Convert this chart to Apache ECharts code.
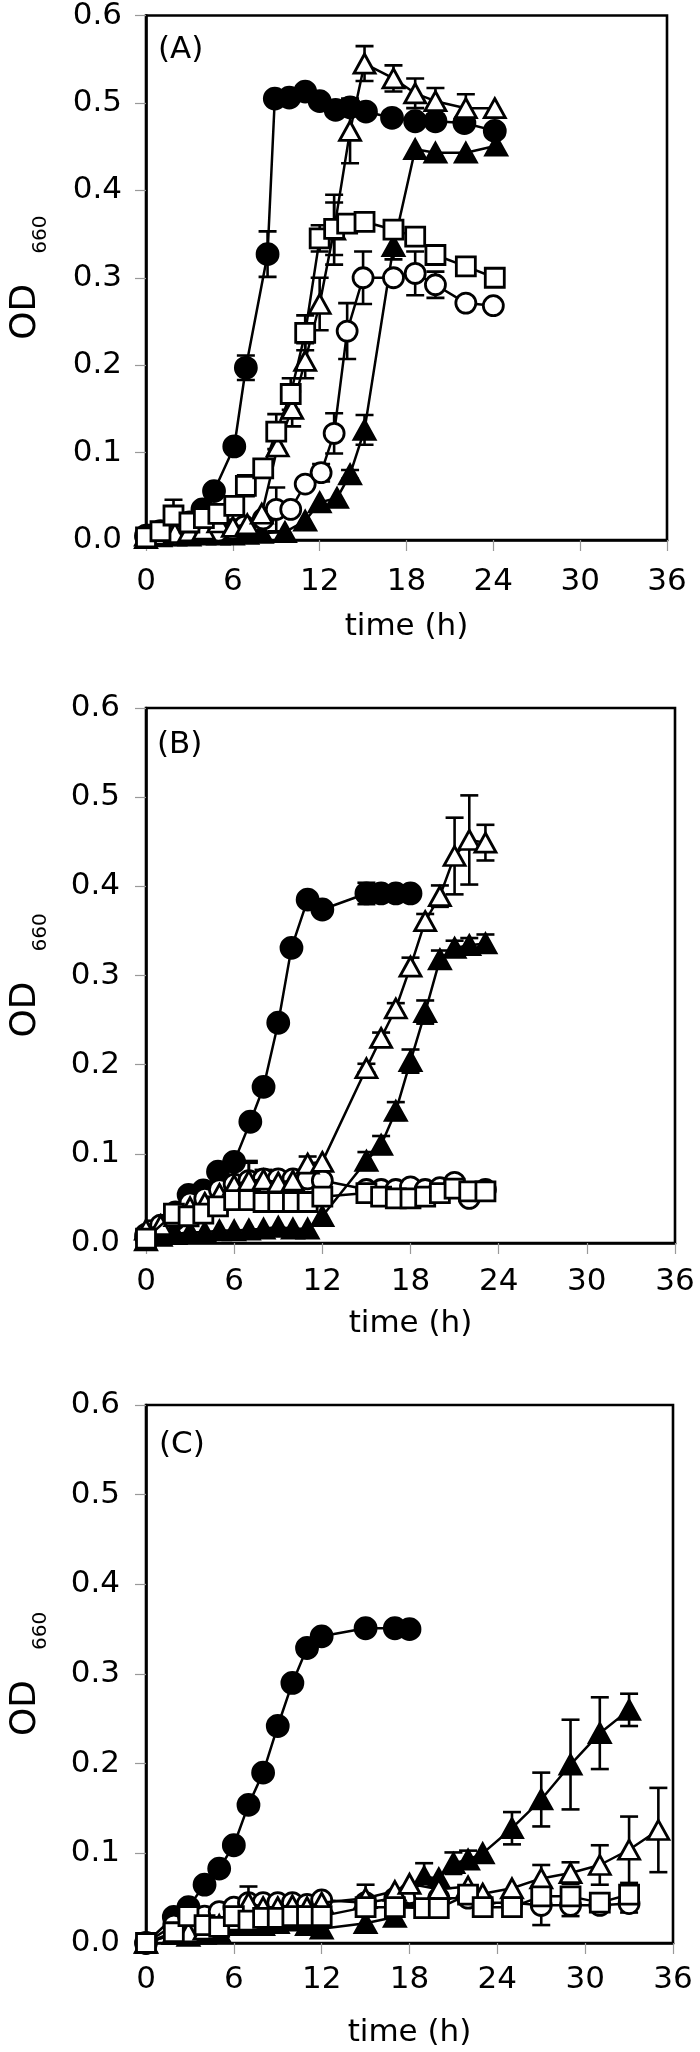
<!DOCTYPE html>
<html><head><meta charset="utf-8">
<script src="https://cdn.jsdelivr.net/npm/echarts@6/dist/echarts.min.js"></script>
<style>html,body{margin:0;padding:0;background:#fff}#c{width:700px;height:2052px}</style>
</head><body><div id="c"></div>
<script>
// ---------- DATA ----------
const xTicks = [0, 6, 12, 18, 24, 30, 36];
const yTicks = [0.0, 0.1, 0.2, 0.3, 0.4, 0.5, 0.6];
const panelLabels = ['(A)', '(B)', '(C)'];

// Panel A
const A_fc_t = [0,1,2,3,3.9,4.7,6.1,6.9,8.4,8.9,9.9,11.0,12.0,13.1,14.1,15.2,17.0,18.6,20.0,22.0,24.1];
const A_fc_y = [0.005,0.01,0.012,0.02,0.035,0.056,0.107,0.197,0.327,0.505,0.506,0.513,0.502,0.492,0.495,0.49,0.483,0.479,0.479,0.477,0.468];
const A_fc_e = [0.012,0,0,0,0,0,0,0.014,0.026,0,0,0,0,0,0,0,0,0,0,0,0];
const A_ot_t = [0,1,2,3,4,5,6,7,8,9.1,10.1,11.0,12.0,13.0,14.1,15.1,17.1,18.6,20.0,22.1,24.1];
const A_ot_y = [0.005,0.006,0.008,0.01,0.012,0.02,0.015,0.018,0.03,0.107,0.15,0.205,0.27,0.355,0.468,0.545,0.528,0.511,0.502,0.494,0.494];
const A_ot_e = [0,0,0,0,0,0,0,0,0,0,0.02,0.02,0.03,0.04,0.037,0.02,0.015,0.017,0.015,0.016,0];
const A_os_t = [0,1,1.9,3,4,5,6.1,6.9,8.1,9.0,10.0,11.0,12.0,13.0,13.9,15.1,17.1,18.6,20.0,22.1,24.1];
const A_os_y = [0.003,0.01,0.028,0.02,0.025,0.03,0.039,0.062,0.082,0.124,0.167,0.237,0.345,0.356,0.362,0.364,0.355,0.347,0.326,0.313,0.3];
const A_os_e = [0,0,0.018,0,0,0,0,0.012,0,0.02,0.018,0.02,0.015,0.03,0,0,0,0,0,0,0];
const A_oc_t = [0,1,2,3,4,5,6,6.8,8.1,9.0,10.0,11.0,12.1,13.0,13.9,15.0,17.1,18.6,20.0,22.1,24.0];
const A_oc_y = [0.003,0.005,0.006,0.008,0.01,0.01,0.012,0.016,0.024,0.035,0.035,0.064,0.077,0.122,0.239,0.3,0.3,0.305,0.292,0.271,0.268];
const A_oc_e = [0,0,0,0,0,0,0,0,0,0.025,0,0,0.01,0.023,0.032,0.03,0,0.025,0.015,0,0];
const A_ft_t = [0,1,2,3,4,5,6,7,8,9.6,11.0,12.0,13.2,14.1,15.1,17.1,18.6,20.0,22.1,24.2];
const A_ft_y = [0.002,0.004,0.005,0.005,0.006,0.006,0.006,0.007,0.008,0.009,0.022,0.043,0.048,0.075,0.126,0.336,0.447,0.443,0.443,0.451];
const A_ft_e = [0,0,0,0,0,0,0,0,0,0,0,0,0,0.005,0.017,0.015,0,0,0,0];

// Panel B
const B_fc_t = [0,1.9,2.9,3.9,4.9,6.0,7.1,8.0,9.0,9.9,11.0,12.0,15.0,16.0,17.0,18.0];
const B_fc_y = [0.007,0.026,0.054,0.059,0.08,0.091,0.136,0.175,0.247,0.331,0.385,0.374,0.392,0.392,0.392,0.392];
const B_fc_e = [0,0,0,0,0,0,0,0,0,0,0,0,0.012,0.005,0.005,0.005];
const B_ot_t = [0,1,2,3,4,5,6,7,8,9,10,11,12,15,16,17,18,19,20,21,22,23.1];
const B_ot_y = [0.015,0.02,0.03,0.04,0.045,0.055,0.065,0.07,0.071,0.068,0.07,0.089,0.091,0.196,0.23,0.263,0.31,0.361,0.389,0.434,0.452,0.449];
const B_ot_e = [0.01,0,0,0,0,0,0,0.022,0,0,0,0.008,0,0.005,0.006,0.006,0.01,0.008,0.012,0.043,0.05,0.02];
const B_ft_t = [0,1,2,3,4,5,6,7,8,9,10,11,12,15,16,17,18,19,20,21,22,23.1];
const B_ft_y = [0.003,0.008,0.01,0.012,0.012,0.014,0.014,0.015,0.016,0.018,0.016,0.016,0.03,0.092,0.11,0.148,0.204,0.259,0.318,0.331,0.334,0.336];
const B_ft_e = [0,0,0,0,0,0,0,0,0,0,0,0,0,0.01,0.01,0.01,0.013,0.013,0.01,0.008,0.008,0.01];
const B_oc_t = [0,1,2,3,4,5,6,7,8,9,10,11,12,15,16,17,18,19,20,21,22,23.1];
const B_oc_y = [0.01,0.02,0.035,0.045,0.05,0.06,0.066,0.07,0.072,0.072,0.072,0.072,0.07,0.06,0.06,0.06,0.063,0.06,0.062,0.068,0.05,0.06];
const B_oc_e = [0,0,0,0,0,0,0,0.02,0.01,0,0,0,0,0,0,0,0,0,0,0,0,0];
const B_os_t = [0,1.9,2.9,3.9,4.9,6.0,7.0,8.0,9.0,10.0,11.0,12.0,15.0,16.0,17.0,18.0,19.0,20.0,21.0,22.0,23.1];
const B_os_y = [0.005,0.033,0.03,0.033,0.041,0.048,0.048,0.046,0.046,0.046,0.046,0.052,0.056,0.052,0.05,0.05,0.052,0.056,0.061,0.058,0.058];
const B_os_e = [0,0,0,0,0,0,0.008,0.006,0.006,0,0,0,0.006,0.008,0.008,0.008,0.008,0.006,0,0,0];

// Panel C
const C_fc_t = [0,1.9,2.9,4,5,6,7,8,9,10,11,12,15,17,18];
const C_fc_y = [0.0,0.029,0.04,0.065,0.083,0.109,0.154,0.19,0.242,0.29,0.329,0.342,0.351,0.351,0.35];
const C_fc_e = [0,0,0,0,0,0,0,0,0,0,0,0,0,0,0];
const C_ft_t = [0,1.9,2.9,4,5,6,7,8,9,10,11,12,15,17,18,19,20,21,22,23,25,27,29,31,33];
const C_ft_y = [0.0,0.01,0.008,0.01,0.012,0.02,0.02,0.02,0.022,0.025,0.02,0.016,0.022,0.029,0.052,0.074,0.072,0.089,0.093,0.1,0.128,0.16,0.199,0.234,0.26];
const C_ft_e = [0,0,0,0,0,0,0,0,0,0,0,0,0,0,0,0.015,0,0.012,0.01,0,0.018,0.03,0.05,0.04,0.018];
const C_ot_t = [0,1.9,2.9,4,5,6,7,8,9,10,11,12,15,17,18,20,22,23,25,27,29,31,33,35];
const C_ot_y = [0.0,0.01,0.012,0.015,0.02,0.025,0.045,0.04,0.04,0.042,0.04,0.045,0.05,0.058,0.066,0.06,0.063,0.055,0.061,0.072,0.078,0.087,0.104,0.126];
const C_ot_e = [0,0,0,0,0,0,0.018,0,0,0,0,0,0,0,0,0,0,0,0,0.015,0.012,0.022,0.037,0.047];
const C_oc_t = [0,1.9,2.9,4,5,6,7,8,9,10,11,12,15,17,18,19,20,22,23,25,27,29,31,33];
const C_oc_y = [0.0,0.02,0.03,0.03,0.035,0.04,0.045,0.045,0.045,0.045,0.043,0.048,0.045,0.05,0.055,0.055,0.05,0.05,0.045,0.045,0.042,0.042,0.042,0.044];
const C_oc_e = [0,0,0,0,0,0,0,0,0,0,0,0,0,0,0,0,0,0,0,0,0.022,0.012,0,0.01];
const C_os_t = [0,1.9,2.9,4,5,6,7,8,9,10,11,12,15,17,19,20,22,23,25,27,29,31,33];
const C_os_y = [0.0,0.012,0.03,0.02,0.018,0.03,0.025,0.028,0.028,0.03,0.03,0.03,0.04,0.04,0.039,0.039,0.054,0.04,0.04,0.052,0.052,0.045,0.054];
const C_os_e = [0,0,0,0,0,0,0,0,0,0,0,0,0.025,0,0,0,0.01,0,0,0,0,0,0];

const panelSeries = [
  { ft:[A_ft_t,A_ft_y,A_ft_e], fc:[A_fc_t,A_fc_y,A_fc_e], oc:[A_oc_t,A_oc_y,A_oc_e], os:[A_os_t,A_os_y,A_os_e], ot:[A_ot_t,A_ot_y,A_ot_e] },
  { ft:[B_ft_t,B_ft_y,B_ft_e], fc:[B_fc_t,B_fc_y,B_fc_e], oc:[B_oc_t,B_oc_y,B_oc_e], os:[B_os_t,B_os_y,B_os_e], ot:[B_ot_t,B_ot_y,B_ot_e] },
  { ft:[C_ft_t,C_ft_y,C_ft_e], fc:[C_fc_t,C_fc_y,C_fc_e], oc:[C_oc_t,C_oc_y,C_oc_e], os:[C_os_t,C_os_y,C_os_e], ot:[C_ot_t,C_ot_y,C_ot_e] }
];

// ---------- LAYOUT / STYLE ----------
const FF = '"DejaVu Sans", sans-serif';
const FS = 31;
const layout = [
  { grid:{left:140, top:12, width:527, height:528}, labelTop:34, xMargin:26, yMargin:24, yPad:[8,0,0,0], nameGap:71 },
  { grid:{left:139, top:708, width:536, height:535}, labelTop:729, xMargin:23, yMargin:26, yPad:[0,0,0,0], nameGap:65 },
  { grid:{left:141, top:1405, width:532, height:538}, labelTop:1429, xMargin:21, yMargin:26, yPad:[0,0,0,0], nameGap:74 }
];
const KIND = {
  fc:{symbol:'circle', size:21, fill:'#000'},
  oc:{symbol:'circle', size:20, fill:'#fff'},
  os:{symbol:'rect', size:19, fill:'#fff'},
  ot:{symbol:'triangle', size:[21,19], fill:'#fff'},
  ft:{symbol:'triangle', size:[21,19], fill:'#000'}
};
const ORDER = ['ft','fc','oc','ot','os'];

function errRender(params, api) {
  const x = api.value(0), y = api.value(1), e = api.value(2);
  const hi = api.coord([x, y + e]), lo = api.coord([x, Math.max(0, y - e)]);
  const w = 9, st = {stroke:'#000', lineWidth:2.6};
  return {type:'group', children:[
    {type:'line', shape:{x1:hi[0], y1:hi[1], x2:lo[0], y2:lo[1]}, style:st},
    {type:'line', shape:{x1:hi[0]-w, y1:hi[1], x2:hi[0]+w, y2:hi[1]}, style:st},
    {type:'line', shape:{x1:lo[0]-w, y1:lo[1], x2:lo[0]+w, y2:lo[1]}, style:st}
  ]};
}

const grids = [], xAxes = [], yAxes = [], titles = [], series = [];
layout.forEach((L, i) => {
  grids.push(Object.assign({show:true, borderColor:'#000', borderWidth:2.6, backgroundColor:'transparent'}, L.grid));
  titles.push({text:panelLabels[i], left:L.grid.left + 18, top:L.labelTop, padding:0,
    textStyle:{fontSize:FS, fontWeight:'normal', color:'#000', fontFamily:FF}});
  xAxes.push({gridIndex:i, type:'value', min:xTicks[0], max:xTicks[xTicks.length-1], interval:xTicks[1]-xTicks[0],
    axisLine:{show:true, onZero:false, lineStyle:{color:'#000', width:2.6}},
    axisTick:{show:true, length:11, lineStyle:{color:'#999', width:1.2}},
    splitLine:{show:false},
    axisLabel:{fontSize:FS, color:'#000', fontFamily:FF, margin:L.xMargin},
    name:'time (h)', nameLocation:'middle', nameGap:L.nameGap,
    nameTextStyle:{fontSize:FS, color:'#000', fontFamily:FF}});
  yAxes.push({gridIndex:i, type:'value', min:yTicks[0], max:yTicks[yTicks.length-1], interval:yTicks[1]-yTicks[0],
    axisLine:{show:true, onZero:false, lineStyle:{color:'#000', width:2.6}},
    axisTick:{show:true, length:11, lineStyle:{color:'#999', width:1.2}},
    splitLine:{show:false},
    axisLabel:{fontSize:FS, color:'#000', fontFamily:FF, margin:L.yMargin, padding:L.yPad, formatter:v => v.toFixed(1)},
    name:'{a|OD}{b|660}', nameLocation:'middle', nameGap:95, nameRotate:90,
    nameTextStyle:{rich:{
      a:{fontSize:36, color:'#000', fontFamily:FF, lineHeight:50},
      b:{fontSize:20, color:'#000', fontFamily:FF, verticalAlign:'bottom', padding:[0,0,0,30]}
    }}});
  ORDER.forEach((k, j) => {
    const [t, y, e] = panelSeries[i][k];
    const K = KIND[k];
    series.push({type:'custom', xAxisIndex:i, yAxisIndex:i, z:1, clip:true,
      renderItem:errRender,
      data:t.map((v, n) => [v, y[n], e[n]]).filter(d => d[2] > 0)});
    series.push({type:'line', xAxisIndex:i, yAxisIndex:i, z:2 + j,
      data:t.map((v, n) => [v, y[n]]),
      symbol:K.symbol, symbolSize:K.size, showSymbol:true, showAllSymbol:true,
      lineStyle:{color:'#000', width:2.5},
      itemStyle:{color:K.fill, borderColor:'#000', borderWidth:2.8, opacity:1},
      emphasis:{disabled:true}});
  });
});

const chart = echarts.init(document.getElementById('c'), null, {renderer:'canvas'});
chart.setOption({animation:false, backgroundColor:'#fff', title:titles, grid:grids, xAxis:xAxes, yAxis:yAxes, series:series});
</script></body></html>
